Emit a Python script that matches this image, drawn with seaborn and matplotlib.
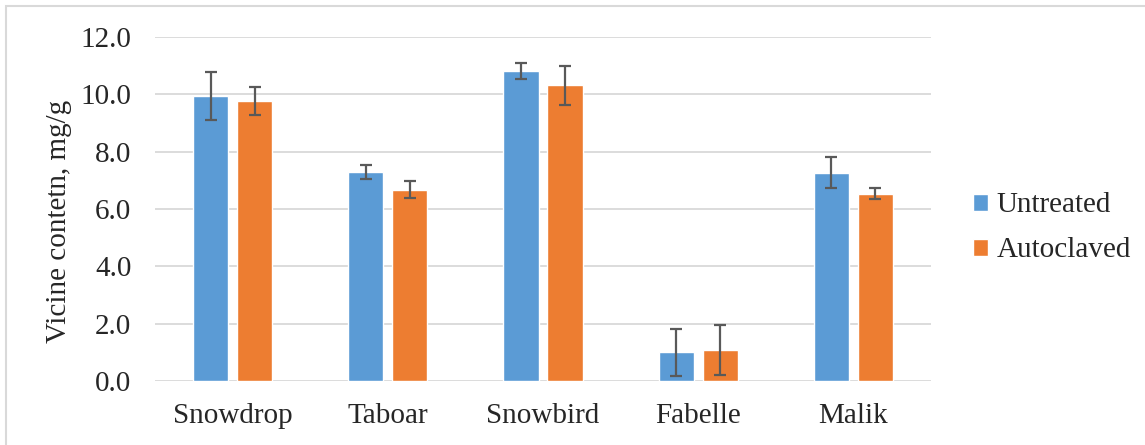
import matplotlib
matplotlib.use("Agg")
import matplotlib.pyplot as plt
import seaborn as sns
import pandas as pd
import numpy as np
from matplotlib.patches import Rectangle

varieties = ["Snowdrop", "Taboar", "Snowbird", "Fabelle", "Malik"]
untreated = [9.94, 7.30, 10.82, 1.01, 7.27]
untreated_err = [0.85, 0.25, 0.27, 0.82, 0.53]
autoclaved = [9.77, 6.67, 10.31, 1.07, 6.53]
autoclaved_err = [0.49, 0.30, 0.68, 0.87, 0.19]
series = ["Untreated", "Autoclaved"]
yticks = [0.0, 2.0, 4.0, 6.0, 8.0, 10.0, 12.0]

df = pd.DataFrame({
    "Variety": varieties * 2,
    "Treatment": [series[0]] * 5 + [series[1]] * 5,
    "Value": untreated + autoclaved,
    "Err": untreated_err + autoclaved_err,
})

sns.set_style("white")
plt.rcParams["font.family"] = ["Liberation Serif", "DejaVu Serif"]

W, H = 1145, 445
fig = plt.figure(figsize=(W / 100, H / 100), dpi=100)
ax = fig.add_axes([155 / W, 1 - 381 / H, 776 / W, 344 / H])

sns.barplot(data=df, x="Variety", y="Value", hue="Treatment", order=varieties,
            hue_order=series, palette=["#5B9BD5", "#ED7D31"], width=0.568, gap=0.2,
            errorbar=None, ax=ax, saturation=1, zorder=2)

# error bars aligned with bar patches
errs = untreated_err + autoclaved_err
vals = untreated + autoclaved
patches = [p for p in ax.patches if p.get_height() > 0][:10]
for p, v, e in zip(patches, vals, errs):
    cx = p.get_x() + p.get_width() / 2
    ax.errorbar(cx, v, yerr=e, fmt="none", ecolor="#595959", elinewidth=1.6,
                capsize=4.5, capthick=1.6, zorder=3)

ax.set_ylim(0, 12)
ax.set_yticks(yticks)
ax.set_yticklabels([f"{t:.1f}" for t in yticks], fontsize=21)
ax.set_xlim(-0.5, 4.5)
ax.tick_params(axis="x", labelsize=21, length=0, pad=16)
ax.tick_params(axis="y", length=0, pad=17)
ax.yaxis.grid(True, color="#D9D9D9", linewidth=1.3, zorder=0)
ax.set_axisbelow(True)
for s in ax.spines.values():
    s.set_visible(False)
ax.set_xlabel("")
ax.set_ylabel("Vicine contetn, mg/g", fontsize=21)
ax.yaxis.set_label_coords(-(155 - 72) / 776, 0.465)

ax.legend(loc="center left", bbox_to_anchor=(1.054, 0.445), frameon=False,
          fontsize=21, handlelength=0.52, handleheight=0.52, labelspacing=0.65,
          handletextpad=0.3, borderpad=0, borderaxespad=0)

fig.patches.append(Rectangle((6 / W, -0.05), 1.1, 1 - 6 / H + 0.05,
                             transform=fig.transFigure, fill=False,
                             edgecolor="#D9D9D9", linewidth=1.5))

fig.savefig("out.png", dpi=100)
